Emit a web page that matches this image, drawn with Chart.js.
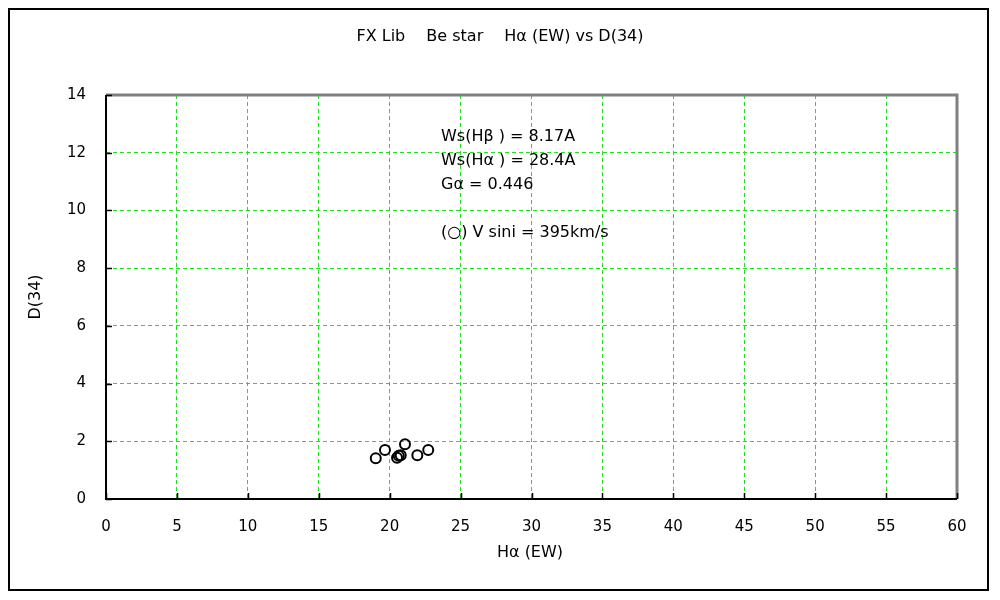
<!DOCTYPE html>
<html>
<head>
<meta charset="utf-8">
<script src="https://cdn.jsdelivr.net/npm/chart.js@4/dist/chart.umd.min.js"></script>
<style>
  html, body { margin: 0; padding: 0; background: #fff; }
  #wrap { width: 1000px; height: 600px; }
</style>
</head>
<body>
<div id="wrap"><canvas id="c" width="1000" height="600"></canvas></div>
<script>
// H alpha equivalent width vs D(34)
const haEW = [19.02, 19.67, 21.08, 20.52, 20.78, 20.64, 21.95, 22.72];
const d34  = [1.41, 1.70, 1.90, 1.43, 1.52, 1.50, 1.52, 1.70];

const xTicks = [0, 5, 10, 15, 20, 25, 30, 35, 40, 45, 50, 55, 60];
const yTicks = [0, 2, 4, 6, 8, 10, 12, 14];

const titleText = 'FX Lib\u3000 Be star\u3000 H\u03b1 (EW) vs D(34)';
const xTitle = 'H\u03b1 (EW)';
const yTitle = 'D(34)';
const noteLines = [
  'Ws(H\u03b2 ) = 8.17A',
  'Ws(H\u03b1 ) = 28.4A',
  'G\u03b1 = 0.446',
  '',
  '(\u25cb) V sini = 395km/s'
];

const FONT = '"DejaVu Sans", sans-serif';
const GRID = '#22e022';

const points = haEW.map((x, i) => ({ x: x, y: d34[i] }));

// frame, titles, note text and the inward tick marks
const decor = {
  id: 'decor',
  afterDraw(chart) {
    const ctx = chart.ctx;
    const a = chart.chartArea;
    const xs = chart.scales.x, ys = chart.scales.y;
    ctx.save();

    // outer box
    ctx.strokeStyle = '#000';
    ctx.lineWidth = 2;
    ctx.strokeRect(9, 9, 979, 581);

    // top and right edges of the plot are grey
    ctx.strokeStyle = '#808080';
    ctx.lineWidth = 3;
    ctx.beginPath();
    ctx.moveTo(a.left, a.top);
    ctx.lineTo(a.right, a.top);
    ctx.lineTo(a.right, a.bottom);
    ctx.stroke();

    // left and bottom edges black
    ctx.strokeStyle = '#000';
    ctx.lineWidth = 2;
    ctx.beginPath();
    ctx.moveTo(a.left, a.top);
    ctx.lineTo(a.left, a.bottom);
    ctx.lineTo(a.right, a.bottom);
    ctx.stroke();

    // small ticks pointing into the plot
    ctx.lineWidth = 1.5;
    ctx.beginPath();
    yTicks.forEach(v => {
      const py = Math.round(ys.getPixelForValue(v)) + 0.5;
      ctx.moveTo(a.left, py);
      ctx.lineTo(a.left + 6, py);
    });
    xTicks.forEach(v => {
      const px = Math.round(xs.getPixelForValue(v)) + 0.5;
      ctx.moveTo(px, a.bottom);
      ctx.lineTo(px, a.bottom - 6);
    });
    ctx.stroke();

    ctx.fillStyle = '#000';
    ctx.font = '16px ' + FONT;
    ctx.textAlign = 'center';
    ctx.textBaseline = 'middle';
    ctx.fillText(titleText, 500, 37);
    ctx.fillText(xTitle, 530, 553);

    ctx.save();
    ctx.translate(36, 297);
    ctx.rotate(-Math.PI / 2);
    ctx.fillText(yTitle, 0, 0);
    ctx.restore();

    ctx.textAlign = 'left';
    ctx.font = '16px ' + FONT;
    noteLines.forEach((t, i) => {
      ctx.fillText(t, 441, 137 + i * 24);
    });
    ctx.restore();
  }
};

new Chart(document.getElementById('c'), {
  type: 'scatter',
  data: {
    datasets: [{
      data: points,
      pointStyle: 'circle',
      pointRadius: 5,
      pointBorderWidth: 2,
      pointBorderColor: '#000',
      pointBackgroundColor: 'rgba(0,0,0,0)',
      showLine: false
    }]
  },
  options: {
    responsive: false,
    animation: false,
    events: [],
    layout: { padding: { left: 0, top: 95, right: 43, bottom: 0 } },
    plugins: {
      legend: { display: false },
      tooltip: { enabled: false }
    },
    scales: {
      x: {
        type: 'linear',
        min: 0, max: 60,
        afterFit: s => { s.height = 101; },
        afterBuildTicks: s => { s.ticks = xTicks.map(v => ({ value: v })); },
        ticks: { padding: 19, color: '#000', font: { family: FONT, size: 15 } },
        grid: {
          drawTicks: false,
          color: c => (c.tick && (c.tick.value === 0 || c.tick.value === 60)) ? 'rgba(0,0,0,0)' : GRID,
          lineWidth: 1
        },
        border: { display: false, dash: [4, 3] }
      },
      y: {
        type: 'linear',
        min: 0, max: 14,
        afterFit: s => { s.width = 106; },
        afterBuildTicks: s => { s.ticks = yTicks.map(v => ({ value: v })); },
        ticks: { padding: 20, color: '#000', font: { family: FONT, size: 15 } },
        grid: {
          drawTicks: false,
          color: c => (c.tick && (c.tick.value === 0 || c.tick.value === 14)) ? 'rgba(0,0,0,0)' : GRID,
          lineWidth: 1
        },
        border: { display: false, dash: [4, 3] }
      }
    }
  },
  plugins: [decor]
});
</script>
</body>
</html>
